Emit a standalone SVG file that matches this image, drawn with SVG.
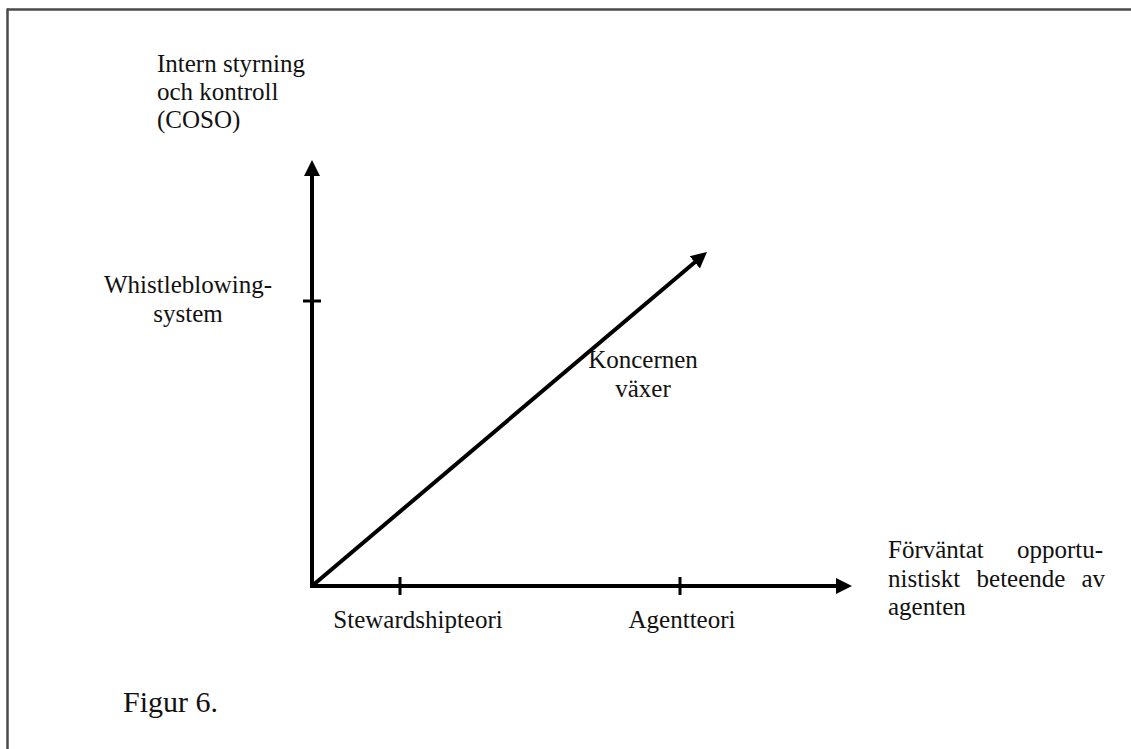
<svg xmlns="http://www.w3.org/2000/svg" width="1131" height="749" viewBox="0 0 1131 749">
  <style>
    .lbl { font-family: "Liberation Serif", "Times New Roman", serif; font-size: 25px; fill: #111; }
    .cap { font-family: "Liberation Serif", "Times New Roman", serif; font-size: 30px; fill: #111; }
    .axis { stroke: #000; stroke-width: 4; fill: none; }
    .tick { stroke: #000; stroke-width: 3; }
    .frame { stroke: #4a4a4a; stroke-width: 2.5; fill: none; }
  </style>
  <defs>
    <marker id="arrow" markerUnits="userSpaceOnUse" markerWidth="20" markerHeight="20"
            viewBox="0 -10 20 20" refX="2" refY="0" orient="auto">
      <path d="M0,-8 L16,0 L0,8 z" fill="#000"/>
    </marker>
  </defs>

  <rect width="1131" height="749" fill="#fff"/>

  <!-- page frame: top and left rules -->
  <g id="frame">
    <line class="frame" x1="7" y1="9.5" x2="1131" y2="9.5"/>
    <line class="frame" x1="7.5" y1="8.5" x2="7.5" y2="749"/>
  </g>

  <!-- axes, ticks and trend arrow -->
  <g id="connectors">
    <line class="axis" x1="312" y1="588" x2="312" y2="174" marker-end="url(#arrow)"/>
    <line class="axis" x1="310" y1="586" x2="838" y2="586" marker-end="url(#arrow)"/>
    <line class="axis" x1="312" y1="586" x2="696.3" y2="261" marker-end="url(#arrow)"/>
    <line class="tick" x1="303" y1="301" x2="321" y2="301"/>
    <line class="tick" x1="400" y1="577" x2="400" y2="595"/>
    <line class="tick" x1="680" y1="577" x2="680" y2="595"/>
  </g>

  <g id="y-axis-label">
    <text class="lbl" x="157" y="72">Intern styrning</text>
    <text class="lbl" x="157" y="100">och kontroll</text>
    <text class="lbl" x="157" y="128">(COSO)</text>
  </g>

  <g id="whistleblowing">
    <text class="lbl" x="188" y="293" text-anchor="middle">Whistleblowing-</text>
    <text class="lbl" x="188" y="322" text-anchor="middle">system</text>
  </g>

  <g id="growth-label">
    <text class="lbl" x="643" y="368" text-anchor="middle">Koncernen</text>
    <text class="lbl" x="643" y="397" text-anchor="middle">växer</text>
  </g>

  <g id="x-axis-label">
    <text class="lbl" x="888" y="558">Förväntat</text>
    <text class="lbl" x="1103" y="558" text-anchor="end">opportu-</text>
    <text class="lbl" x="888" y="587">nistiskt</text>
    <text class="lbl" x="1021" y="587" text-anchor="middle">beteende</text>
    <text class="lbl" x="1105" y="587" text-anchor="end">av</text>
    <text class="lbl" x="888" y="615">agenten</text>
  </g>

  <g id="stewardship">
    <text class="lbl" x="418" y="628" text-anchor="middle">Stewardshipteori</text>
  </g>

  <g id="agent">
    <text class="lbl" x="682" y="628" text-anchor="middle">Agentteori</text>
  </g>

  <g id="caption">
    <text class="cap" x="123" y="712">Figur 6.</text>
  </g>
</svg>
